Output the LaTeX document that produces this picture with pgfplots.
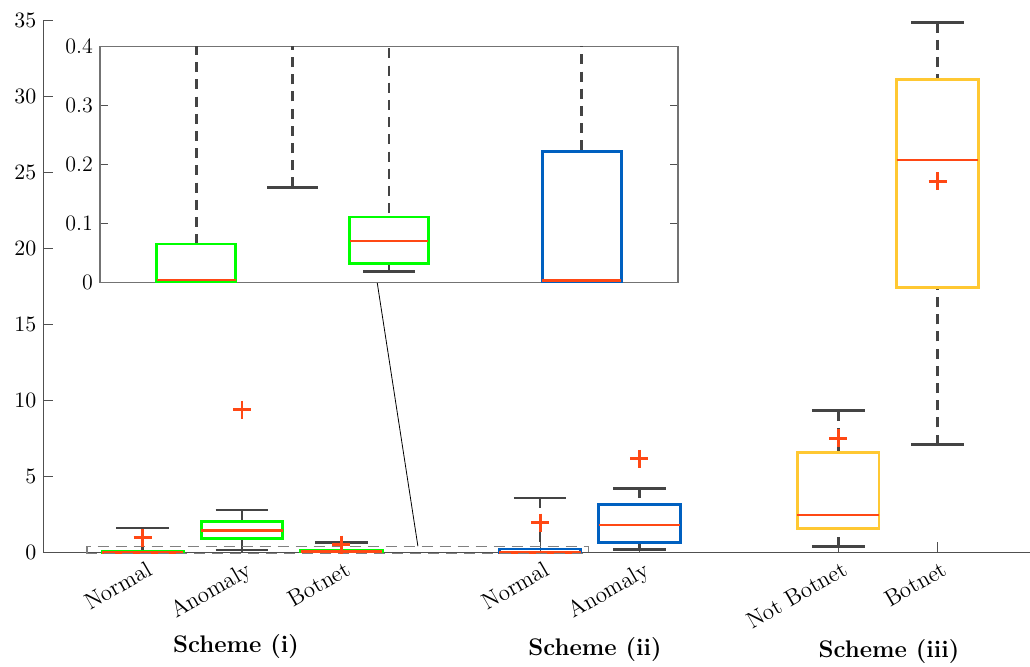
\documentclass[border=0pt]{standalone}
\usepackage{pgfplots}
\pgfplotsset{compat=1.18}
\usepgfplotslibrary{statistics}

\definecolor{boxgreen}{RGB}{0,255,0}
\definecolor{boxblue}{RGB}{0,96,192}
\definecolor{boxyellow}{RGB}{255,200,50}
\definecolor{medred}{RGB}{255,72,20}
\definecolor{whiskgray}{RGB}{68,68,68}
\definecolor{axgray}{RGB}{80,80,80}

% MATLAB-like boxes: dashed whisker stems, solid caps
\pgfplotsset{
  /pgfplots/boxplot/draw/lower whisker/.code={%
    \draw[/pgfplots/boxplot/every whisker/.try, dash pattern=on 5pt off 3.6pt]
      (boxplot cs:\pgfplotsboxplotvalue{lower whisker}) --
      (boxplot cs:\pgfplotsboxplotvalue{lower quartile});
    \draw[/pgfplots/boxplot/every whisker/.try]
      (boxplot whisker cs:\pgfplotsboxplotvalue{lower whisker},0) --
      (boxplot whisker cs:\pgfplotsboxplotvalue{lower whisker},1);
  },
  /pgfplots/boxplot/draw/upper whisker/.code={%
    \draw[/pgfplots/boxplot/every whisker/.try, dash pattern=on 5pt off 3.6pt]
      (boxplot cs:\pgfplotsboxplotvalue{upper whisker}) --
      (boxplot cs:\pgfplotsboxplotvalue{upper quartile});
    \draw[/pgfplots/boxplot/every whisker/.try]
      (boxplot whisker cs:\pgfplotsboxplotvalue{upper whisker},0) --
      (boxplot whisker cs:\pgfplotsboxplotvalue{upper whisker},1);
  },
  matbox/.style={
    solid,
    boxplot/draw direction=y,
    boxplot/box extend=0.82,
    boxplot/whisker extend=0.53,
    boxplot/every box/.style={draw=#1, line width=1.4pt},
    boxplot/every median/.style={draw=medred, line width=1.3pt},
    boxplot/every whisker/.style={draw=whiskgray, line width=1.3pt},
  },
  meanmark/.style={only marks, mark=+, mark size=4.5pt, color=medred,
    mark options={line width=1.4pt}},
}

\begin{document}
\begin{tikzpicture}
\path[use as bounding box] (0,0) rectangle (515pt,333.5pt);

% ---------------- main axis ----------------
\begin{axis}[
  name=main,
  at={(21.65pt,57.35pt)}, anchor=south west,
  scale only axis, width=493.35pt, height=266pt,
  xmin=0, xmax=9.93, ymin=0, ymax=35,
  axis x line*=bottom, axis y line*=left,
  axis line style={axgray, line width=0.6pt},
  tick style={axgray, line width=0.6pt},
  tick align=inside, major tick length=5pt,
  ytick={0,5,...,35},
  xtick={1,2,3,5,6,8,9},
  xticklabels={Normal,Anomaly,Botnet,Normal,Anomaly,Not Botnet,Botnet},
  x tick label style={rotate=30, anchor=north east, yshift=-2pt, xshift=1.5pt,
    font=\fontsize{11.5}{13}\selectfont, inner sep=2pt},
  y tick label style={font=\fontsize{11}{13}\selectfont},
  clip=false,
]
% Scheme (i)
\addplot[matbox=boxgreen, boxplot prepared={draw position=1,
  lower whisker=0, lower quartile=0, median=0.004,
  upper quartile=0.065, upper whisker=1.6}] coordinates {};
\addplot[matbox=boxgreen, boxplot prepared={draw position=2,
  lower whisker=0.161, lower quartile=0.90, median=1.42,
  upper quartile=2.04, upper whisker=2.78}] coordinates {};
\addplot[matbox=boxgreen, boxplot prepared={draw position=3,
  lower whisker=0.018, lower quartile=0.032, median=0.070,
  upper quartile=0.111, upper whisker=0.66}] coordinates {};
% Scheme (ii)
\addplot[matbox=boxblue, boxplot prepared={draw position=5,
  lower whisker=0, lower quartile=0, median=0.003,
  upper quartile=0.222, upper whisker=3.57}] coordinates {};
\addplot[matbox=boxblue, boxplot prepared={draw position=6,
  lower whisker=0.18, lower quartile=0.63, median=1.79,
  upper quartile=3.15, upper whisker=4.20}] coordinates {};
% Scheme (iii)
\addplot[matbox=boxyellow, boxplot prepared={draw position=8,
  lower whisker=0.37, lower quartile=1.57, median=2.45,
  upper quartile=6.58, upper whisker=9.31}] coordinates {};
\addplot[matbox=boxyellow, boxplot prepared={draw position=9,
  lower whisker=7.08, lower quartile=17.4, median=25.8,
  upper quartile=31.1, upper whisker=34.85}] coordinates {};
% means
\addplot[meanmark] coordinates {(1,0.96) (2,9.37) (3,0.50) (5,1.95)
  (6,6.15) (8,7.51) (9,24.4)};

% zoomed region and its link to the inset
\draw[gray, line width=0.6pt, dash pattern=on 5.5pt off 3.5pt]
  (axis cs:0.44,-0.08) rectangle (axis cs:5.49,0.4);
\draw[black, line width=0.4pt] (axis cs:3.36,17.76) -- (axis cs:3.77,0.4);
\end{axis}

% group labels
\node[anchor=base, font=\fontsize{12}{14}\selectfont\bfseries] at (118pt,7pt) {Scheme (i)};
\node[anchor=base, font=\fontsize{12}{14}\selectfont\bfseries] at (297.5pt,5.5pt) {Scheme (ii)};
\node[anchor=base, font=\fontsize{12}{14}\selectfont\bfseries] at (444.5pt,4.5pt) {Scheme (iii)};

% ---------------- inset ----------------
\begin{axis}[
  at={(50pt,192.35pt)}, anchor=south west,
  scale only axis, width=289pt, height=117.8pt,
  xmin=0, xmax=6, ymin=0, ymax=0.4,
  axis background/.style={fill=white},
  axis line style={axgray!80, line width=0.6pt},
  tick style={axgray, line width=0.6pt},
  tick align=inside, major tick length=4pt,
  xtick=\empty, ytick={0,0.1,0.2,0.3,0.4},
  yticklabels={0,0.1,0.2,0.3,0.4},
  y tick label style={font=\fontsize{11}{13}\selectfont},
]
\addplot[matbox=boxgreen, boxplot prepared={draw position=1,
  lower whisker=0, lower quartile=0, median=0.004,
  upper quartile=0.065, upper whisker=1.6}] coordinates {};
\addplot[matbox=boxgreen, boxplot prepared={draw position=2,
  lower whisker=0.161, lower quartile=0.90, median=1.42,
  upper quartile=2.04, upper whisker=2.78}] coordinates {};
\addplot[matbox=boxgreen, boxplot prepared={draw position=3,
  lower whisker=0.018, lower quartile=0.032, median=0.070,
  upper quartile=0.111, upper whisker=0.66}] coordinates {};
\addplot[matbox=boxblue, boxplot prepared={draw position=5,
  lower whisker=0, lower quartile=0, median=0.003,
  upper quartile=0.222, upper whisker=3.57}] coordinates {};
\end{axis}
\end{tikzpicture}
\end{document}
